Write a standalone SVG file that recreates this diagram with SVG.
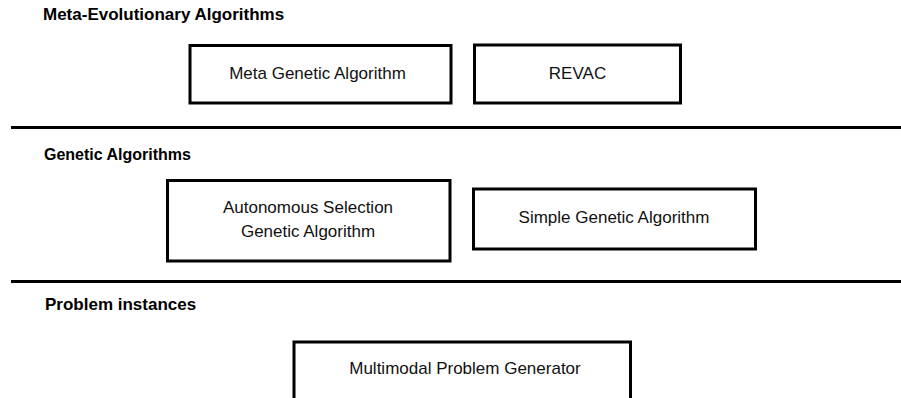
<svg xmlns="http://www.w3.org/2000/svg" width="901" height="398" viewBox="0 0 901 398">
<style>
.bg{fill:#ffffff}
.box{fill:#ffffff;stroke:#000000;stroke-width:3}
.sep{stroke:#000000;stroke-width:3}
.hdr{font-family:"Liberation Sans",Arial,sans-serif;font-weight:bold;font-size:17px;fill:#000000}
.lbl{font-family:"Liberation Sans",Arial,sans-serif;font-size:17px;fill:#111111;text-anchor:middle}
</style>
<rect class="bg" x="0" y="0" width="901" height="398"/>
<g id="connectors">
<line class="sep" x1="11" y1="127.5" x2="901" y2="127.5"/>
<line class="sep" x1="11" y1="281.5" x2="901" y2="281.5"/>
</g>
<g id="layer-meta">
<text class="hdr" x="43" y="20">Meta-Evolutionary Algorithms</text>
</g>
<g id="layer-ga">
<text class="hdr" x="44" y="160" style="font-size:16px">Genetic Algorithms</text>
</g>
<g id="layer-problems">
<text class="hdr" x="45" y="310">Problem instances</text>
</g>
<g id="node-meta-ga">
<rect class="box" x="190" y="45.5" width="261" height="57.5"/>
<text class="lbl" x="317.5" y="79">Meta Genetic Algorithm</text>
</g>
<g id="node-revac">
<rect class="box" x="474.5" y="45" width="206" height="58"/>
<text class="lbl" x="577.5" y="79">REVAC</text>
</g>
<g id="node-asga">
<rect class="box" x="167.5" y="180.5" width="282.5" height="80.5"/>
<text class="lbl" x="308" y="213">Autonomous Selection</text>
<text class="lbl" x="308" y="237">Genetic Algorithm</text>
</g>
<g id="node-sga">
<rect class="box" x="473.5" y="189" width="282" height="60"/>
<text class="lbl" x="614" y="223">Simple Genetic Algorithm</text>
</g>
<g id="node-mpg">
<rect class="box" x="294" y="342" width="336.5" height="80"/>
<text class="lbl" x="465" y="374">Multimodal Problem Generator</text>
</g>
</svg>
